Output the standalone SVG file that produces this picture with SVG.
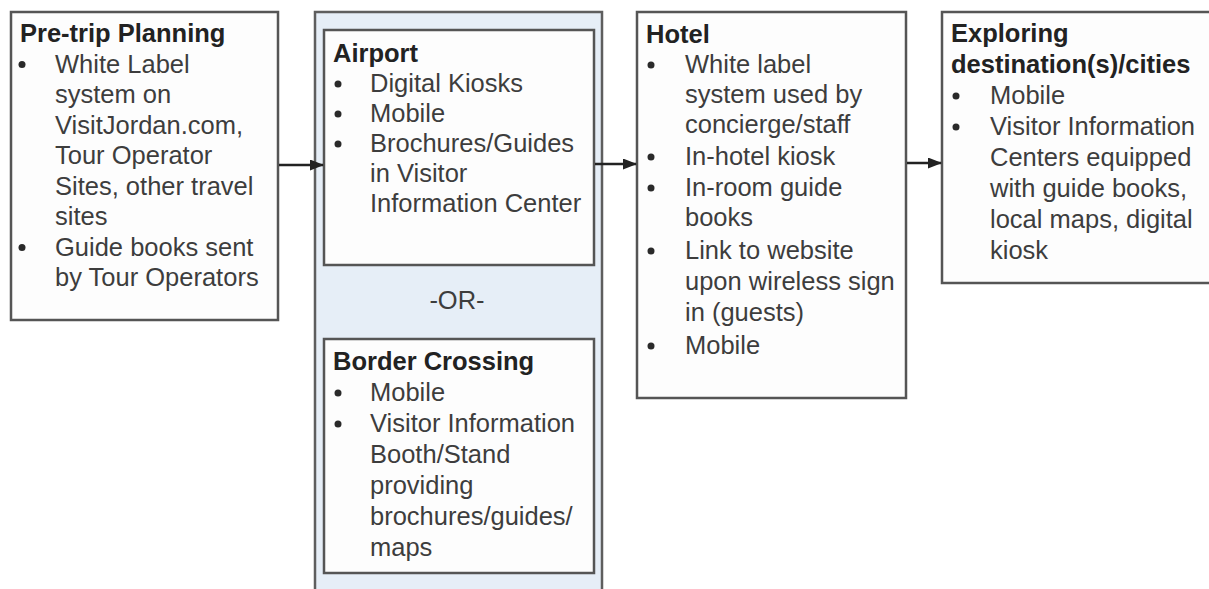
<svg xmlns="http://www.w3.org/2000/svg" width="1209" height="589" viewBox="0 0 1209 589">
<style>
.box{fill:#fdfdfd;stroke:#555555;stroke-width:2.5}
.cont{fill:#e6eef7;stroke:#5e5e5e;stroke-width:2.5}
.t{font-family:"Liberation Sans",Arial,sans-serif;font-size:25.5px;fill:#3d3d3d}
.h{font-family:"Liberation Sans",Arial,sans-serif;font-size:25.5px;font-weight:bold;fill:#222}
.b{fill:#2a2a2a}
.conn{stroke:#222;stroke-width:2.5;fill:none}
</style>
<defs>
<marker id="arr" markerWidth="14" markerHeight="11" refX="13" refY="5.5" orient="auto" markerUnits="userSpaceOnUse">
<path d="M0,0 L14,5.5 L0,11 Z" fill="#222"/>
</marker>
</defs>
<rect width="1209" height="589" fill="#ffffff"/>

<g id="pretrip">
<rect class="box" x="11" y="12" width="267" height="308"/>
<text class="h" x="20" y="42">Pre-trip Planning</text>
<circle class="b" cx="22" cy="64.5" r="3.5"/>
<text class="t" x="55" y="72.5">White Label</text>
<text class="t" x="55" y="103">system on</text>
<text class="t" x="55" y="133.5">VisitJordan.com,</text>
<text class="t" x="55" y="164">Tour Operator</text>
<text class="t" x="55" y="194.5">Sites, other travel</text>
<text class="t" x="55" y="225">sites</text>
<circle class="b" cx="22" cy="247.5" r="3.5"/>
<text class="t" x="55" y="255.5">Guide books sent</text>
<text class="t" x="55" y="286">by Tour Operators</text>
</g>

<g id="arrival">
<rect class="cont" x="315" y="12" width="287" height="600"/>
<g id="airport">
<rect class="box" x="324" y="30" width="270" height="235"/>
<text class="h" x="333" y="62">Airport</text>
<circle class="b" cx="338" cy="84" r="3.5"/>
<text class="t" x="370" y="92">Digital Kiosks</text>
<circle class="b" cx="338" cy="114" r="3.5"/>
<text class="t" x="370" y="122">Mobile</text>
<circle class="b" cx="338" cy="144" r="3.5"/>
<text class="t" x="370" y="152">Brochures/Guides</text>
<text class="t" x="370" y="182">in Visitor</text>
<text class="t" x="370" y="212">Information Center</text>
</g>
<text id="or" class="t" x="457" y="309" text-anchor="middle">-OR-</text>
<g id="border">
<rect class="box" x="324" y="339" width="270" height="234"/>
<text class="h" x="333" y="370">Border Crossing</text>
<circle class="b" cx="338" cy="393" r="3.5"/>
<text class="t" x="370" y="401">Mobile</text>
<circle class="b" cx="338" cy="424" r="3.5"/>
<text class="t" x="370" y="432">Visitor Information</text>
<text class="t" x="370" y="463">Booth/Stand</text>
<text class="t" x="370" y="494">providing</text>
<text class="t" x="370" y="525">brochures/guides/</text>
<text class="t" x="370" y="556">maps</text>
</g>
</g>

<g id="hotel">
<rect class="box" x="637" y="12" width="269" height="386"/>
<text class="h" x="646" y="43">Hotel</text>
<circle class="b" cx="651" cy="65" r="3.5"/>
<text class="t" x="685" y="73">White label</text>
<text class="t" x="685" y="103">system used by</text>
<text class="t" x="685" y="133">concierge/staff</text>
<circle class="b" cx="651" cy="157" r="3.5"/>
<text class="t" x="685" y="165">In-hotel kiosk</text>
<circle class="b" cx="651" cy="188" r="3.5"/>
<text class="t" x="685" y="196">In-room guide</text>
<text class="t" x="685" y="226">books</text>
<circle class="b" cx="651" cy="251" r="3.5"/>
<text class="t" x="685" y="259">Link to website</text>
<text class="t" x="685" y="290">upon wireless sign</text>
<text class="t" x="685" y="321">in (guests)</text>
<circle class="b" cx="651" cy="346" r="3.5"/>
<text class="t" x="685" y="354">Mobile</text>
</g>

<g id="exploring">
<rect class="box" x="942" y="12" width="280" height="271"/>
<text class="h" x="951" y="42">Exploring</text>
<text class="h" x="951" y="73">destination(s)/cities</text>
<circle class="b" cx="956" cy="96" r="3.5"/>
<text class="t" x="990" y="104">Mobile</text>
<circle class="b" cx="956" cy="127" r="3.5"/>
<text class="t" x="990" y="135">Visitor Information</text>
<text class="t" x="990" y="166">Centers equipped</text>
<text class="t" x="990" y="197">with guide books,</text>
<text class="t" x="990" y="228">local maps, digital</text>
<text class="t" x="990" y="259">kiosk</text>
</g>

<g id="connectors">
<line class="conn" x1="279" y1="165" x2="323" y2="165" marker-end="url(#arr)"/>
<line class="conn" x1="595" y1="164" x2="636" y2="164" marker-end="url(#arr)"/>
<line class="conn" x1="907" y1="163" x2="941" y2="163" marker-end="url(#arr)"/>
</g>
</svg>
